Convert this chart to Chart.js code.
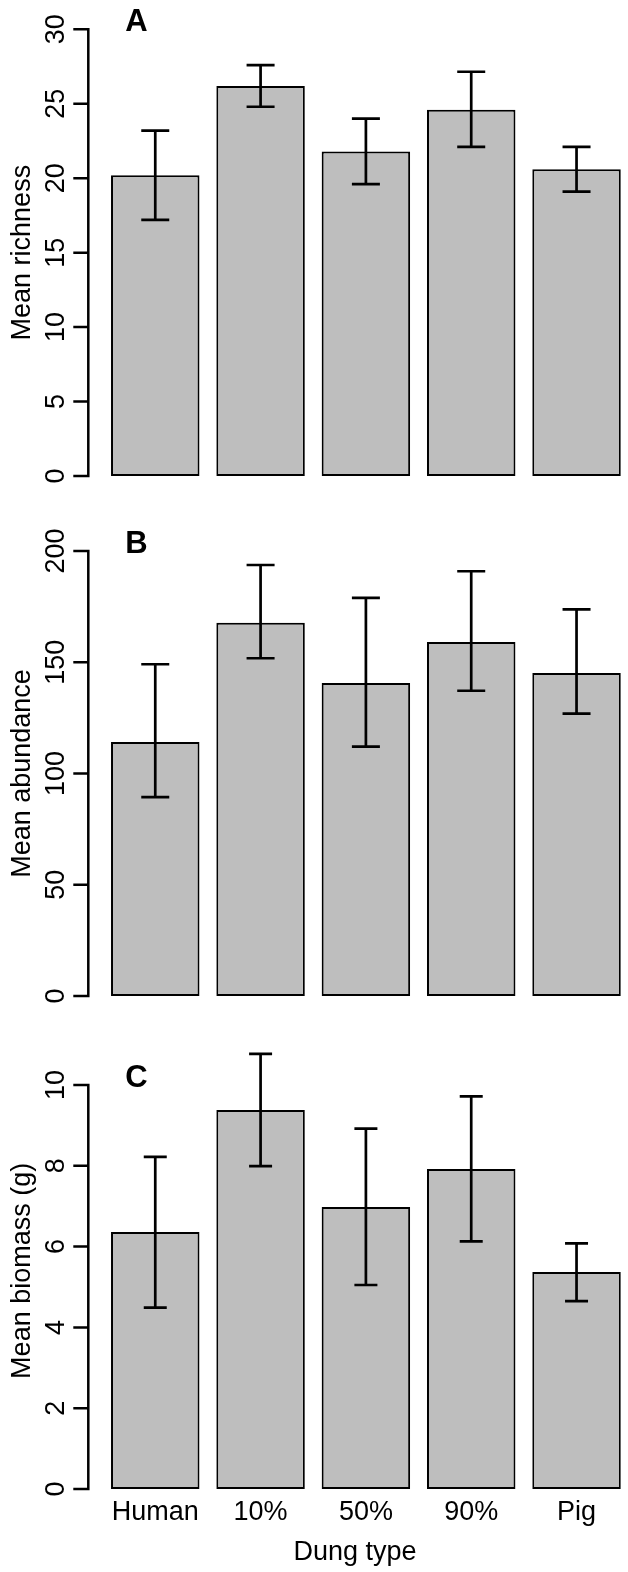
<!DOCTYPE html>
<html>
<head>
<meta charset="utf-8">
<script src="https://cdn.jsdelivr.net/npm/chart.js@4.4.1/dist/chart.umd.min.js"></script>
<style>
  html, body { margin:0; padding:0; background:#fff; }
  body { width:628px; height:1572px; overflow:hidden; position:relative; }
  .panel { position:absolute; left:0; }
  canvas { display:block; }
</style>
</head>
<body>
<div class="panel" style="top:0px"><canvas id="cA" width="632" height="500"></canvas></div>
<div class="panel" style="top:500px"><canvas id="cB" width="632" height="520"></canvas></div>
<div class="panel" style="top:1020px"><canvas id="cC" width="632" height="552"></canvas></div>
<script>
// ---- data ----
const categories = ['Human', '10%', '50%', '90%', 'Pig'];

const richnessMean  = [20.2, 26.2, 21.8, 24.6, 20.6];
const richnessLower = [17.2, 24.8, 19.6, 22.1, 19.1];
const richnessUpper = [23.2, 27.6, 24.0, 27.15, 22.1];
const richnessTicks = [0, 5, 10, 15, 20, 25, 30];

const abundanceMean  = [114.2, 167.8, 140.7, 159.1, 145.2];
const abundanceLower = [89.4, 151.8, 112.1, 137.2, 126.9];
const abundanceUpper = [149.1, 193.7, 178.9, 190.9, 173.8];
const abundanceTicks = [0, 50, 100, 150, 200];

const biomassMean  = [6.36, 9.38, 6.98, 7.92, 5.37];
const biomassLower = [4.49, 7.99, 5.05, 6.13, 4.65];
const biomassUpper = [8.22, 10.77, 8.92, 9.72, 6.08];
const biomassTicks = [0, 2, 4, 6, 8, 10];

const FONT = '"Liberation Sans", Arial, Helvetica, sans-serif';

const rPlot = {
  id: 'rPlot',
  afterDatasetsDraw(chart, args, o) {
    const ctx = chart.ctx;
    const xs = chart.scales.x, ys = chart.scales.y;
    ctx.save();
    ctx.strokeStyle = '#000';
    ctx.fillStyle = '#000';
    ctx.lineCap = 'butt';
    // error bars
    ctx.lineWidth = 2.7;
    o.lower.forEach((lo, i) => {
      const x = xs.getPixelForValue(i);
      const yl = ys.getPixelForValue(lo), yu = ys.getPixelForValue(o.upper[i]);
      ctx.beginPath();
      ctx.moveTo(x, yl); ctx.lineTo(x, yu);
      ctx.moveTo(x - o.cap, yl); ctx.lineTo(x + o.cap, yl);
      ctx.moveTo(x - o.cap, yu); ctx.lineTo(x + o.cap, yu);
      ctx.stroke();
    });
    // y axis (R style, detached)
    const ax = 88.3;
    const y0 = ys.getPixelForValue(o.ticks[0]);
    const y1 = ys.getPixelForValue(o.ticks[o.ticks.length - 1]);
    ctx.lineWidth = 2.5;
    ctx.beginPath();
    ctx.moveTo(ax, y0 + 1.25); ctx.lineTo(ax, y1 - 1.25);
    o.ticks.forEach(v => {
      const y = ys.getPixelForValue(v);
      ctx.moveTo(ax - 15, y); ctx.lineTo(ax, y);
    });
    ctx.stroke();
    ctx.font = '27px ' + FONT;
    ctx.textAlign = 'center';
    ctx.textBaseline = 'alphabetic';
    o.ticks.forEach(v => {
      const y = ys.getPixelForValue(v);
      ctx.save();
      ctx.translate(63.5, y);
      ctx.rotate(-Math.PI / 2);
      ctx.fillText(String(v), 0, 0);
      ctx.restore();
    });
    // axis title
    const yc = ys.getPixelForValue(o.titleCenter);
    ctx.save();
    ctx.translate(29.5, yc);
    ctx.rotate(-Math.PI / 2);
    ctx.fillText(o.title, 0, 0);
    ctx.restore();
    // panel letter
    ctx.font = 'bold 31px ' + FONT;
    ctx.fillText(o.letter, 136.5, y1 + 1.5);
    // x labels
    if (o.xlabels) {
      ctx.font = '27px ' + FONT;
      categories.forEach((c, i) => {
        ctx.fillText(c, xs.getPixelForValue(i), ys.getPixelForValue(0) + 31);
      });
      ctx.fillText('Dung type', 355, ys.getPixelForValue(0) + 71);
    }
    ctx.restore();
  }
};

function makeChart(id, mean, lower, upper, ticks, max, pad, title, titleCenter, letter, xlabels, cap) {
  return new Chart(document.getElementById(id), {
    type: 'bar',
    data: {
      labels: categories,
      datasets: [{
        data: mean,
        backgroundColor: '#bebebe',
        borderColor: '#000000',
        borderWidth: 2,
        borderSkipped: false,
        barPercentage: 0.84,
        categoryPercentage: 1.0
      }]
    },
    options: {
      responsive: false,
      devicePixelRatio: 1,
      animation: false,
      events: [],
      layout: { padding: pad },
      scales: {
        x: { display: false, offset: true },
        y: { display: false, min: 0, max: max }
      },
      plugins: {
        legend: { display: false },
        tooltip: { enabled: false },
        rPlot: { lower, upper, ticks, title, titleCenter, letter, xlabels, cap }
      }
    },
    plugins: [rPlot]
  });
}

makeChart('cA', richnessMean, richnessLower, richnessUpper, richnessTicks, 30,
  { left: 102.6, right: 2.8, top: 29.3, bottom: 24 }, 'Mean richness', 15, 'A', false, 14);
makeChart('cB', abundanceMean, abundanceLower, abundanceUpper, abundanceTicks, 200,
  { left: 102.6, right: 2.8, top: 51, bottom: 24 }, 'Mean abundance', 100, 'B', false, 14);
makeChart('cC', biomassMean, biomassLower, biomassUpper, biomassTicks, 11,
  { left: 102.6, right: 2.8, top: 24.6, bottom: 83 }, 'Mean biomass (g)', 5.4, 'C', true, 11.5);
</script>
</body>
</html>
